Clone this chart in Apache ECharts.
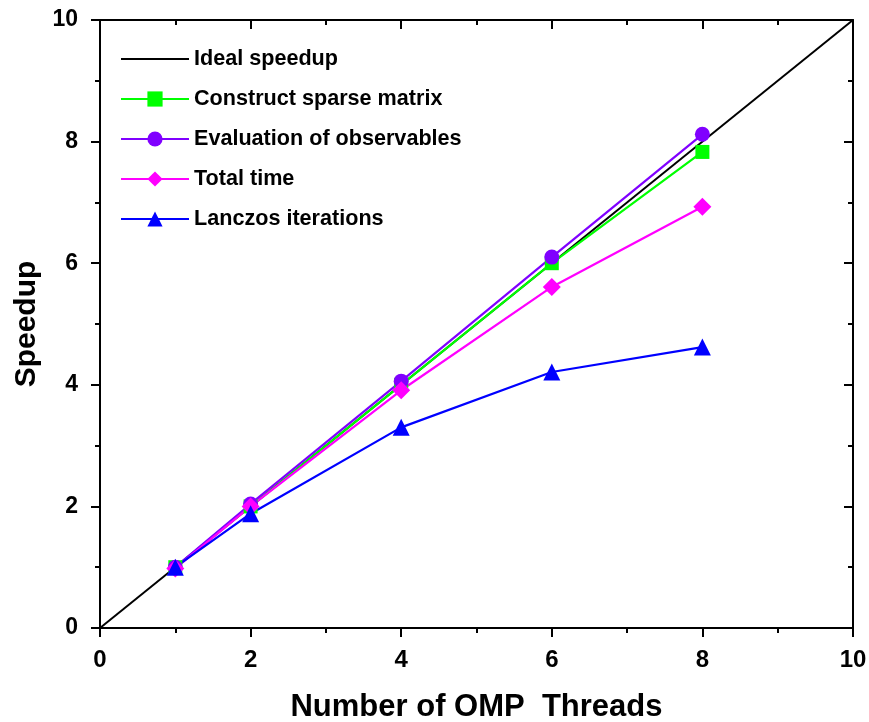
<!DOCTYPE html>
<html>
<head>
<meta charset="utf-8">
<script src="https://cdn.jsdelivr.net/npm/echarts@6/dist/echarts.min.js"></script>
<style>
  html, body { margin: 0; padding: 0; background: #fff; }
  #chart { width: 869px; height: 722px; }
</style>
</head>
<body>
<div id="chart"></div>
<script>
// Thread counts and measured speedups
const threads = [1, 2, 4, 6, 8];
const idealX = [0, 10];
const idealY = [0, 10];
const constructSparse = [1.0, 2.0, 4.0, 6.0, 7.83];
const evalObservables = [1.0, 2.04, 4.06, 6.1, 8.12];
const totalTime = [0.98, 2.0, 3.91, 5.61, 6.93];
const lanczosIter = [1.0, 1.88, 3.3, 4.21, 4.62];
const tickLabels = ['0', '2', '4', '6', '8', '10'];

const FONT = '"Liberation Sans", Arial, sans-serif';

function pairs(xs, ys) { return xs.map((x, i) => [x, ys[i]]); }

const BLACK_LINE = { color: '#000', width: 2 };

function axisCommon(extra) {
  return Object.assign({
    type: 'value', min: 0, max: 10, interval: 2,
    axisLine: { show: true, onZero: false, lineStyle: BLACK_LINE },
    axisTick: { show: true, length: 9, lineStyle: BLACK_LINE },
    minorTick: { show: true, splitNumber: 2, length: 5, lineStyle: BLACK_LINE },
    splitLine: { show: false },
    minorSplitLine: { show: false }
  }, extra);
}

function labelStyle(size, margin) {
  return { color: '#000', fontFamily: FONT, fontWeight: 'bold', fontSize: size, margin,
    formatter: v => tickLabels[Math.round(v / 2)] };
}

const chart = echarts.init(document.getElementById('chart'), null, { renderer: 'canvas' });

function line(name, data, color, symbol, size) {
  return {
    name, type: 'line', data: pairs(threads, data),
    symbol, symbolSize: size,
    lineStyle: { color, width: 2.2 },
    itemStyle: { color },
    emphasis: { disabled: true }
  };
}

chart.setOption({
  backgroundColor: '#fff',
  animation: false,
  grid: { left: 100, right: 16, top: 20, bottom: 94, containLabel: false, outerBoundsMode: 'none' },
  legend: {
    orient: 'vertical', left: 115, top: 43,
    itemWidth: 68, itemHeight: 19, itemGap: 18,
    textStyle: { color: '#000', fontFamily: FONT, fontWeight: 'bold', fontSize: 21.6 },
    data: [
      { name: 'Ideal speedup', itemStyle: { opacity: 0 } },
      'Construct sparse matrix', 'Evaluation of observables', 'Total time', 'Lanczos iterations'
    ]
  },
  xAxis: [
    axisCommon({
      position: 'bottom',
      name: 'Number of OMP  Threads', nameLocation: 'middle', nameGap: 64,
      nameTextStyle: { color: '#000', fontFamily: FONT, fontWeight: 'bold', fontSize: 31 },
      axisLabel: labelStyle(24, 20)
    }),
    axisCommon({
      position: 'top',
      axisTick: { show: true, inside: true, length: 9, lineStyle: BLACK_LINE },
      minorTick: { show: true, splitNumber: 2, length: 5, lineStyle: BLACK_LINE },
      axisLabel: { show: false }
    })
  ],
  yAxis: [
    axisCommon({
      position: 'left',
      name: 'Speedup', nameLocation: 'middle', nameGap: 55,
      nameTextStyle: { color: '#000', fontFamily: FONT, fontWeight: 'bold', fontSize: 30 },
      axisLabel: labelStyle(23, 22)
    }),
    axisCommon({
      position: 'right',
      axisTick: { show: true, inside: true, length: 9, lineStyle: BLACK_LINE },
      minorTick: { show: true, splitNumber: 2, length: 5, lineStyle: BLACK_LINE },
      axisLabel: { show: false }
    })
  ],
  series: [
    {
      name: 'Ideal speedup', type: 'line', data: pairs(idealX, idealY),
      symbol: 'none', lineStyle: BLACK_LINE, itemStyle: { color: '#000' },
      emphasis: { disabled: true }
    },
    line('Construct sparse matrix', constructSparse, '#00ff00', 'rect', 14),
    line('Evaluation of observables', evalObservables, '#8000ff', 'circle', 15),
    line('Total time', totalTime, '#ff00ff', 'diamond', 18),
    line('Lanczos iterations', lanczosIter, '#0000ff', 'triangle', 17)
  ]
});
</script>
</body>
</html>
